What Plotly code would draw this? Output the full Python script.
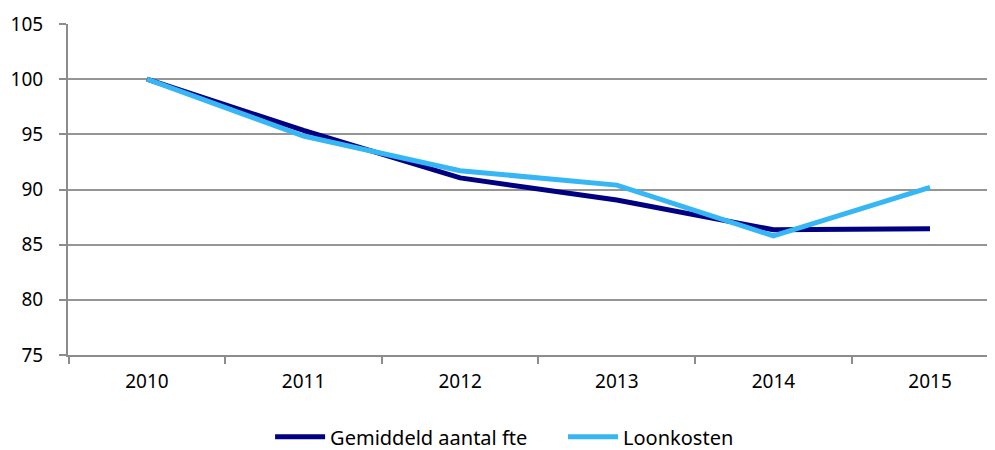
import plotly.graph_objects as go

years = ["2010", "2011", "2012", "2013", "2014", "2015"]
fte = [100, 95.35, 91.05, 89.05, 86.35, 86.45]
loonkosten = [100, 94.85, 91.7, 90.4, 85.8, 90.2]

FONT = "Noto Sans, Open Sans, sans-serif"

fig = go.Figure()
fig.add_trace(go.Scatter(x=years, y=fte, mode="lines", name="Gemiddeld aantal fte",
                         line=dict(color="#000080", width=5), legend="legend"))
fig.add_trace(go.Scatter(x=years, y=loonkosten, mode="lines", name="Loonkosten",
                         line=dict(color="#36B6F4", width=5), legend="legend2"))

leg_common = dict(orientation="h", yanchor="middle", y=-0.247, xanchor="left",
                  font=dict(size=20), itemwidth=50, bgcolor="rgba(0,0,0,0)")

fig.update_layout(
    width=987, height=442,
    margin=dict(l=60, r=0, t=16, b=95, autoexpand=False),
    paper_bgcolor="white", plot_bgcolor="white",
    font=dict(family=FONT, size=19, color="#000000"),
    legend=dict(x=0.218, **leg_common),
    legend2=dict(x=0.534, **leg_common),
    showlegend=True,
)
fig.update_xaxes(
    type="category", range=[-0.504, 5.415], automargin=False,
    showgrid=False, showline=True, linecolor="#8c8c8c", linewidth=2,
    ticks="outside", tickson="boundaries", ticklen=7, tickcolor="#8c8c8c", tickwidth=2,
    ticklabelstandoff=8, tickfont=dict(size=19),
)
fig.update_yaxes(
    range=[75, 105], dtick=5, tick0=75, automargin=False,
    showgrid=True, gridcolor="#959595", gridwidth=2,
    showline=True, linecolor="#8c8c8c", linewidth=2,
    ticks="outside", ticklen=7, tickcolor="#8c8c8c", tickwidth=2,
    ticklabelstandoff=12, tickfont=dict(size=19), zeroline=False,
)

fig.write_html("out.html")
